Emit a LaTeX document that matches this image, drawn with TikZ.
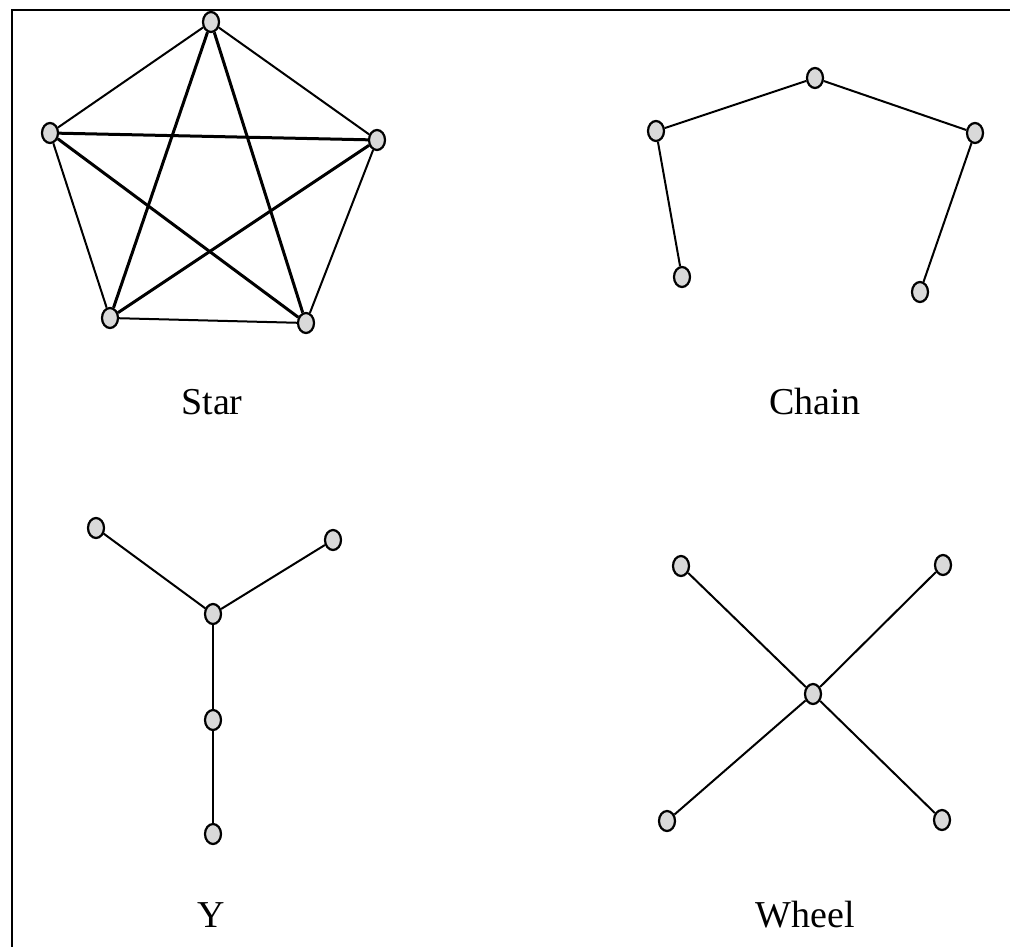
\documentclass[tikz,border=0pt]{standalone}
\usepackage{fontspec}
\setmainfont{Liberation Serif}
\usetikzlibrary{shapes.geometric}
\tikzset{
  vtx/.style={ellipse, draw, line width=2.2pt, fill=gray!30, minimum width=16pt, minimum height=20pt, inner sep=0pt},
  edge/.style={line width=2pt},
  thick edge/.style={line width=3pt},
  lbl/.style={anchor=base, font=\fontsize{38}{40}\selectfont},
}
\begin{document}
\begin{tikzpicture}[x=1pt,y=-1pt]
\useasboundingbox (0,0) rectangle (1010,947);
\coordinate (tl) at (12,10);
\coordinate (tr) at (1010,10);
\coordinate (bl) at (12,947);
\draw[line width=2.6pt] (tr) -- (tl) -- (bl);
% Star
\node[vtx] (s1) at (211,22) {};
\node[vtx] (s2) at (50,133) {};
\node[vtx] (s3) at (377,140) {};
\node[vtx] (s4) at (110,318) {};
\node[vtx] (s5) at (306,323) {};
\draw[edge] (s1) -- (s2);
\draw[edge] (s1) -- (s3);
\draw[edge] (s2) -- (s4);
\draw[edge] (s3) -- (s5);
\draw[edge] (s4) -- (s5);
\draw[thick edge] (s1) -- (s4);
\draw[thick edge] (s1) -- (s5);
\draw[thick edge] (s2) -- (s3);
\draw[thick edge] (s2) -- (s5);
\draw[thick edge] (s4) -- (s3);
\node[lbl] (starlbl) at (212,414) {Star};
% Chain
\node[vtx] (c1) at (656,131) {};
\node[vtx] (c2) at (815,78) {};
\node[vtx] (c3) at (975,133) {};
\node[vtx] (c4) at (682,277) {};
\node[vtx] (c5) at (920,292) {};
\draw[edge] (c4) -- (c1) -- (c2) -- (c3) -- (c5);
\node[lbl] (chainlbl) at (815,414) {Chain};
% Y
\node[vtx] (y0) at (213,614) {};
\node[vtx] (y1) at (96,528) {};
\node[vtx] (y2) at (333,540) {};
\node[vtx] (y3) at (213,720) {};
\node[vtx] (y4) at (213,834) {};
\draw[edge] (y0) -- (y1);
\draw[edge] (y0) -- (y2);
\draw[edge] (y0) -- (y3) -- (y4);
\node[lbl] (ylbl) at (211,927) {Y};
% Wheel
\node[vtx] (w0) at (813,694) {};
\node[vtx] (w1) at (681,566) {};
\node[vtx] (w2) at (943,565) {};
\node[vtx] (w3) at (667,821) {};
\node[vtx] (w4) at (942,820) {};
\draw[edge] (w0) -- (w1);
\draw[edge] (w0) -- (w2);
\draw[edge] (w0) -- (w3);
\draw[edge] (w0) -- (w4);
\node[lbl] (wheellbl) at (805,927) {Wheel};
\end{tikzpicture}
\end{document}
